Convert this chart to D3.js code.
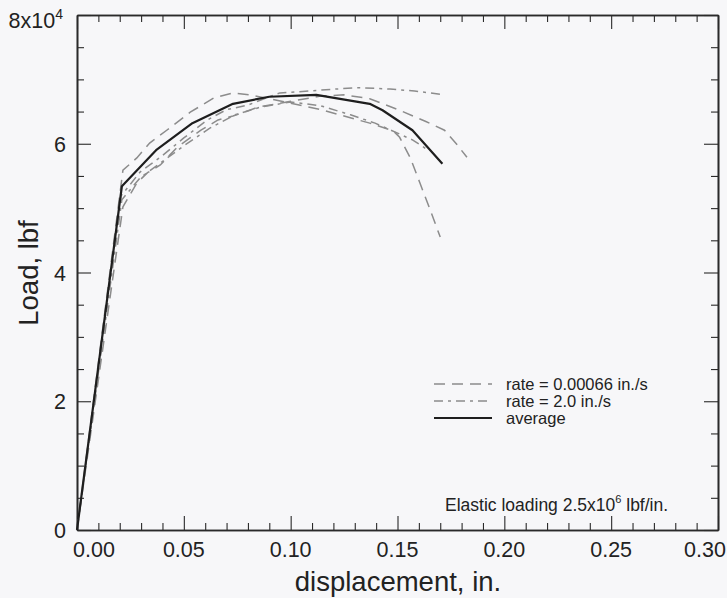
<!DOCTYPE html>
<html>
<head>
<meta charset="utf-8">
<script src="https://cdn.jsdelivr.net/npm/d3@7"></script>
<style>
  html, body { margin: 0; padding: 0; background: #f7f7f9; }
  svg { display: block; }
  text { font-family: "Liberation Sans", Arial, Helvetica, sans-serif; fill: #222; }
</style>
</head>
<body>
<svg id="chart" width="727" height="598"></svg>
<script>
// ---- data (displacement in inches, load in lbf) ----
const avgDisp = [0, 0.021, 0.037, 0.054, 0.073, 0.090, 0.112, 0.137, 0.143, 0.157, 0.171];
const avgLoad = [0, 53400, 59000, 63200, 66200, 67300, 67600, 66200, 65200, 62100, 56900];

const slowADisp = [0, 0.0215, 0.028, 0.034, 0.042, 0.053, 0.064, 0.073, 0.081, 0.097, 0.114, 0.125, 0.137, 0.148, 0.151, 0.156, 0.1605, 0.165, 0.170];
const slowALoad = [0, 55900, 57800, 60100, 62100, 64900, 67100, 67900, 67600, 66500, 65300, 64300, 63200, 62000, 61000, 57800, 53900, 50000, 45500];

const slowBDisp = [0, 0.0215, 0.028, 0.033, 0.039, 0.047, 0.058, 0.066, 0.073, 0.085, 0.100, 0.114, 0.125, 0.137, 0.151, 0.163, 0.172, 0.178, 0.1825];
const slowBLoad = [0, 50200, 53900, 55500, 56700, 59500, 62100, 63700, 64300, 65700, 66600, 67400, 67600, 67000, 65200, 63500, 62100, 59800, 57900];

const fastADisp = [0, 0.0206, 0.0295, 0.039, 0.050, 0.061, 0.070, 0.080, 0.086, 0.095, 0.109, 0.121, 0.132, 0.1465, 0.158, 0.170];
const fastALoad = [0, 51900, 55600, 57900, 60900, 63700, 65300, 66000, 66800, 67900, 68200, 68500, 68700, 68500, 68200, 67700];

const fastBDisp = [0, 0.021, 0.0295, 0.039, 0.0505, 0.062, 0.074, 0.086, 0.100, 0.114, 0.128, 0.1395, 0.149, 0.157, 0.163];
const fastBLoad = [0, 51300, 54700, 57000, 59800, 62400, 64500, 65700, 66500, 65900, 64500, 63200, 61800, 60600, 59300];

const xMajorTicks = [0, 0.05, 0.10, 0.15, 0.20, 0.25, 0.30];
const xTickLabels = ["0.00", "0.05", "0.10", "0.15", "0.20", "0.25", "0.30"];
const yMajorTicks = [0, 20000, 40000, 60000, 80000];
const yTickLabels = ["0", "2", "4", "6", "8x10"];

const legendLabels = ["rate = 0.00066 in./s", "rate = 2.0 in./s", "average"];

// ---- layout ----
const svg = d3.select("#chart");
const L = 77, R = 718, T = 15, B = 530;
const x = d3.scaleLinear().domain([0, 0.30]).range([L, R]);
const y = d3.scaleLinear().domain([0, 80000]).range([B, T]);

const xMinor = d3.range(0, 0.3001, 0.01).filter(v => Math.abs(v / 0.05 - Math.round(v / 0.05)) > 1e-6);
const yMinor = d3.range(0, 80001, 5000).filter(v => v % 20000 !== 0);

const axisColor = "#2a2a2a";
function styleAxis(g) {
  g.selectAll("path.domain").attr("stroke", axisColor).attr("stroke-width", 1.6);
  g.selectAll(".tick line").attr("stroke", axisColor).attr("stroke-width", 1.1);
  g.selectAll(".tick text").remove();
}

// bottom
svg.append("g").attr("transform", `translate(0,${B})`)
  .call(d3.axisBottom(x).tickValues(xMajorTicks).tickSizeInner(-14).tickSizeOuter(0).tickFormat(""))
  .call(styleAxis);
svg.append("g").attr("transform", `translate(0,${B})`)
  .call(d3.axisBottom(x).tickValues(xMinor).tickSizeInner(-7).tickSizeOuter(0).tickFormat(""))
  .call(styleAxis);
// top
svg.append("g").attr("transform", `translate(0,${T})`)
  .call(d3.axisTop(x).tickValues(xMajorTicks).tickSizeInner(-14).tickSizeOuter(0).tickFormat(""))
  .call(styleAxis);
svg.append("g").attr("transform", `translate(0,${T})`)
  .call(d3.axisTop(x).tickValues(xMinor).tickSizeInner(-7).tickSizeOuter(0).tickFormat(""))
  .call(styleAxis);
// left
svg.append("g").attr("transform", `translate(${L},0)`)
  .call(d3.axisLeft(y).tickValues(yMajorTicks).tickSizeInner(-14).tickSizeOuter(0).tickFormat(""))
  .call(styleAxis);
svg.append("g").attr("transform", `translate(${L},0)`)
  .call(d3.axisLeft(y).tickValues(yMinor).tickSizeInner(-7).tickSizeOuter(0).tickFormat(""))
  .call(styleAxis);
// right
svg.append("g").attr("transform", `translate(${R},0)`)
  .call(d3.axisRight(y).tickValues(yMajorTicks).tickSizeInner(-14).tickSizeOuter(0).tickFormat(""))
  .call(styleAxis);
svg.append("g").attr("transform", `translate(${R},0)`)
  .call(d3.axisRight(y).tickValues(yMinor).tickSizeInner(-7).tickSizeOuter(0).tickFormat(""))
  .call(styleAxis);

// x tick labels
const xLabelShift = [17, 0, 0, 0, 0, 0, -13];
xMajorTicks.forEach((v, i) => {
  svg.append("text").attr("x", x(v) + xLabelShift[i]).attr("y", 557)
    .attr("text-anchor", "middle").attr("font-size", 21.5).text(xTickLabels[i]);
});
// y tick labels
yMajorTicks.forEach((v, i) => {
  const t = svg.append("text").attr("x", 66).attr("y", y(v) + 8 + (i === 4 ? 5 : 0))
    .attr("text-anchor", "end").attr("font-size", 21.5);
  if (i === 4) {
    t.attr("x", 63);
    t.append("tspan").text(yTickLabels[i]);
    t.append("tspan").attr("font-size", 14).attr("dy", -9).text("4");
  } else {
    t.text(yTickLabels[i]);
  }
});

// axis titles
svg.append("text").attr("x", 398).attr("y", 591).attr("text-anchor", "middle")
  .attr("font-size", 27.5).text("displacement, in.");
svg.append("text").attr("transform", "translate(38,273) rotate(-90)")
  .attr("text-anchor", "middle").attr("font-size", 27.5).text("Load, lbf");

// ---- curves ----
const line = d3.line().x(d => x(d[0])).y(d => y(d[1]));
const zip = (a, b) => a.map((v, i) => [v, b[i]]);
const dashSlow = "11,7";
const dashFast = "9,5,3,5";
const grey = "#8c8c8c";

const dashed = [
  [slowADisp, slowALoad, dashSlow],
  [slowBDisp, slowBLoad, dashSlow],
  [fastADisp, fastALoad, dashFast],
  [fastBDisp, fastBLoad, dashFast]
];
dashed.forEach(([dx, dy, dash]) => {
  svg.append("path").datum(zip(dx, dy)).attr("d", line)
    .attr("fill", "none").attr("stroke", grey).attr("stroke-width", 1.5)
    .attr("stroke-dasharray", dash);
});
svg.append("path").datum(zip(avgDisp, avgLoad)).attr("d", line)
  .attr("fill", "none").attr("stroke", "#1e1e1e").attr("stroke-width", 2.2)
  .attr("stroke-linejoin", "round");

// ---- legend ----
const legStyles = [
  { stroke: grey, w: 1.5, dash: dashSlow },
  { stroke: grey, w: 1.5, dash: dashFast },
  { stroke: "#1e1e1e", w: 2.2, dash: null }
];
const legY = [384, 401, 418];
legendLabels.forEach((lab, i) => {
  const ln = svg.append("line").attr("x1", 434).attr("x2", 492)
    .attr("y1", legY[i]).attr("y2", legY[i])
    .attr("stroke", legStyles[i].stroke).attr("stroke-width", legStyles[i].w);
  if (legStyles[i].dash) ln.attr("stroke-dasharray", legStyles[i].dash);
  svg.append("text").attr("x", 506).attr("y", legY[i] + 5.5)
    .attr("font-size", 16.5).attr("fill", "#333").text(lab);
});

// ---- annotation ----
const ann = svg.append("text").attr("x", 445).attr("y", 511).attr("font-size", 17.5).attr("fill", "#333");
ann.append("tspan").text("Elastic loading 2.5x10");
ann.append("tspan").attr("font-size", 11).attr("dy", -8).text("6");
ann.append("tspan").attr("dy", 8).text(" lbf/in.");
</script>
</body>
</html>
